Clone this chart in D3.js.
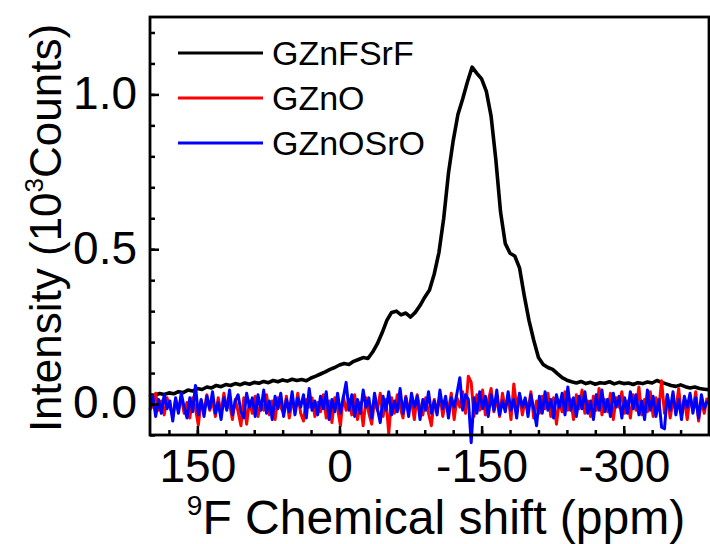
<!DOCTYPE html>
<html>
<head>
<meta charset="utf-8">
<script src="https://cdn.jsdelivr.net/npm/d3@7"></script>
<style>
  body { margin: 0; background: #fff; }
  svg { display: block; font-family: "Liberation Sans", Arial, sans-serif; }
</style>
</head>
<body>
<div id="chart"></div>
<script>
// GZnFSrF: [chemical shift (ppm), intensity (10^3 counts)]
var seriesFSrF = [
  [200, 0.030], [195, 0.028], [190, 0.034], [185, 0.031], [180, 0.036], [175, 0.033],
  [170, 0.040], [165, 0.037], [160, 0.045], [155, 0.042], [150, 0.050], [145, 0.047],
  [140, 0.055], [135, 0.052], [130, 0.060], [125, 0.056], [120, 0.063], [115, 0.060],
  [110, 0.066], [105, 0.062], [100, 0.068], [95, 0.064], [90, 0.070], [85, 0.067],
  [80, 0.073], [75, 0.069], [70, 0.076], [65, 0.072], [60, 0.078], [55, 0.074],
  [50, 0.080], [45, 0.076], [40, 0.079], [35, 0.075], [30, 0.084], [25, 0.090],
  [20, 0.097], [15, 0.104], [10, 0.112], [5, 0.118], [0, 0.126], [-5, 0.131],
  [-10, 0.128], [-15, 0.138], [-20, 0.144], [-25, 0.150], [-30, 0.147], [-35, 0.168],
  [-40, 0.195], [-45, 0.230], [-50, 0.270], [-55, 0.296], [-60, 0.300], [-65, 0.288],
  [-70, 0.294], [-75, 0.281], [-80, 0.296], [-85, 0.318], [-90, 0.345], [-95, 0.368],
  [-100, 0.420], [-105, 0.490], [-110, 0.600], [-115, 0.745], [-120, 0.850], [-125, 0.935],
  [-130, 0.985], [-135, 1.040], [-140, 1.088], [-145, 1.068], [-150, 1.050], [-155, 1.010],
  [-160, 0.930], [-165, 0.790], [-170, 0.620], [-175, 0.518], [-180, 0.487], [-185, 0.478],
  [-190, 0.440], [-195, 0.350], [-200, 0.270], [-205, 0.206], [-210, 0.150], [-215, 0.128],
  [-220, 0.118], [-225, 0.112], [-230, 0.098], [-235, 0.085], [-240, 0.077], [-245, 0.072],
  [-250, 0.068], [-255, 0.073], [-260, 0.066], [-265, 0.070], [-270, 0.064], [-275, 0.069],
  [-280, 0.067], [-285, 0.072], [-290, 0.065], [-295, 0.070], [-300, 0.066], [-305, 0.068],
  [-310, 0.063], [-315, 0.069], [-320, 0.066], [-325, 0.071], [-330, 0.068], [-335, 0.076],
  [-340, 0.070], [-345, 0.065], [-350, 0.060], [-355, 0.057], [-360, 0.062], [-365, 0.056],
  [-370, 0.052], [-375, 0.055], [-380, 0.050], [-385, 0.048], [-390, 0.046]
];

// GZnO and GZnOSrO are sampled on the same grid: 200 ppm, step -3 ppm
var noiseStart = 200;
var noiseStep = -3;

var valuesZnO = [
  0.03, -0.01, 0.035, -0.02, 0.01, -0.035, 0.02, -0.01, -0.04, 0.015,
  -0.02, 0.025, -0.03, 0.005, -0.045, 0.02, -0.015, -0.068, 0.01, -0.025,
  0.03, -0.02, 0.01, -0.04, 0.02, -0.03, 0.035, -0.015, 0.0, -0.05,
  0.015, -0.025, -0.07, 0.02, -0.065, 0.01, -0.03, 0.025, -0.04, 0.005,
  -0.02, 0.03, -0.035, 0.01, -0.05, 0.02, -0.01, -0.03, 0.025, -0.045,
  0.01, -0.02, 0.035, -0.03, -0.055, 0.015, -0.01, 0.02, -0.04, 0.005,
  -0.025, 0.03, -0.045, 0.01, -0.06, 0.02, -0.015, -0.07, 0.025, -0.02,
  0.015, -0.035, 0.03, -0.05, 0.005, -0.07, 0.02, -0.03, -0.065, 0.01,
  -0.02, 0.035, -0.04, 0.015, -0.095, 0.02, -0.03, 0.03, -0.01, -0.045,
  0.025, -0.02, 0.01, -0.05, 0.03, -0.015, -0.035, 0.02, -0.03, -0.07,
  0.015, -0.025, 0.03, -0.04, 0.01, -0.02, 0.035, -0.05, 0.02, -0.01,
  0.04, -0.03, 0.09, 0.07, -0.04, 0.03, -0.02, 0.045, -0.035, 0.01,
  0.05, -0.025, 0.02, -0.04, 0.035, -0.015, 0.025, -0.05, 0.065, -0.01,
  0.03, -0.035, 0.015, -0.02, 0.04, -0.045, 0.01, -0.03, 0.025, -0.015,
  0.035, -0.04, 0.02, -0.065, 0.01, -0.025, 0.04, -0.02, 0.015, -0.05,
  0.03, -0.015, 0.045, -0.03, 0.01, -0.04, 0.025, -0.02, 0.05, -0.035,
  0.015, -0.025, 0.035, -0.05, 0.02, -0.01, 0.04, -0.03, 0.01, -0.045,
  0.03, -0.02, 0.055, -0.035, 0.015, -0.025, 0.04, -0.04, 0.02, -0.015,
  0.075, -0.03, 0.03, -0.045, 0.01, -0.02, 0.05, -0.035, 0.015, -0.05,
  0.025, -0.02, 0.04, -0.055, 0.01, -0.03, 0.02
];

var valuesZnOSrO = [
  -0.02, 0.025, -0.04, 0.015, -0.03, 0.03, -0.015, 0.01, -0.055, 0.02,
  -0.03, 0.035, -0.01, -0.045, 0.02, -0.025, 0.06, -0.035, 0.015, -0.04,
  0.025, -0.015, 0.04, -0.03, 0.005, -0.05, 0.02, -0.02, 0.045, -0.035,
  0.01, 0.03, -0.025, -0.045, 0.035, -0.01, 0.02, -0.04, 0.03, -0.02,
  0.045, -0.03, 0.01, -0.05, 0.025, -0.015, 0.035, -0.04, 0.015, -0.025,
  0.04, -0.035, 0.02, -0.01, 0.03, -0.045, 0.05, -0.02, 0.01, -0.035,
  0.025, -0.015, 0.04, -0.05, 0.015, -0.025, 0.035, -0.03, 0.02, 0.07,
  -0.02, 0.03, -0.04, 0.015, -0.03, 0.045, -0.01, 0.02, -0.045, 0.035,
  -0.015, -0.06, 0.025, -0.02, 0.04, -0.035, 0.01, -0.025, 0.05, -0.03,
  0.02, -0.04, 0.035, -0.01, 0.025, -0.05, 0.015, -0.02, 0.04, -0.03,
  0.01, -0.035, 0.045, -0.015, 0.025, -0.045, 0.02, -0.01, 0.035, 0.085,
  -0.02, 0.03, 0.015, -0.125, 0.02, -0.03, 0.04, -0.015, 0.025, -0.04,
  0.03, -0.02, 0.045, -0.035, 0.01, -0.025, 0.04, -0.02, 0.015, -0.045,
  0.035, -0.01, 0.02, -0.04, 0.03, -0.015, -0.07, 0.025, -0.03, 0.04,
  -0.02, 0.015, -0.045, 0.03, -0.01, 0.035, -0.035, 0.055, -0.02, 0.02,
  -0.04, 0.025, -0.015, 0.04, -0.03, 0.01, -0.05, 0.03, -0.02, 0.045,
  -0.025, 0.015, -0.04, 0.035, -0.01, 0.025, -0.045, 0.02, -0.03, 0.04,
  -0.015, 0.03, -0.035, 0.01, -0.05, 0.045, -0.02, 0.025, -0.04, 0.015,
  -0.075, -0.08, 0.03, -0.02, 0.04, -0.035, 0.015, -0.05, 0.025, -0.01,
  0.035, -0.03, 0.02, -0.045, 0.03, -0.015, 0.01
];

var legendNames = ["GZnFSrF", "GZnO", "GZnOSrO"];
var legendColors = ["#000000", "#ff0000", "#0000ff"];

var xMajorTicks = [150, 0, -150, -300];
var xMinorTicks = [180, 150, 120, 90, 60, 30, 0, -30, -60, -90, -120, -150, -180, -210, -240, -270, -300, -330, -360];
var yMajorTicks = [0.0, 0.5, 1.0];
var yMinorTicks = [-0.1, 0.0, 0.1, 0.2, 0.3, 0.4, 0.5, 0.6, 0.7, 0.8, 0.9, 1.0, 1.1, 1.2];

drawSpectrum();

function drawSpectrum() {
    var width = 710, height = 544;
    var plot = { left: 150, right: 709, top: 17, bottom: 435 };

    var svg = d3.select("#chart").append("svg")
        .attr("width", width)
        .attr("height", height);

    var x = d3.scaleLinear().domain([200, -390]).range([plot.left, plot.right]);
    var y = d3.scaleLinear().domain([-0.1, 1.25]).range([plot.bottom, plot.top]);

    var toPairs = function (values) {
        return values.map(function (v, i) { return [noiseStart + noiseStep * i, v]; });
    };

    var line = d3.line()
        .x(function (d) { return x(d[0]); })
        .y(function (d) { return y(d[1]); });

    var series = [seriesFSrF, toPairs(valuesZnO), toPairs(valuesZnOSrO)];
    var widths = [3.6, 3, 3];

    series.forEach(function (s, i) {
        svg.append("path")
            .datum(s)
            .attr("fill", "none")
            .attr("stroke", legendColors[i])
            .attr("stroke-width", widths[i])
            .attr("stroke-linejoin", "round")
            .attr("d", line);
    });

    // minor ticks (inward)
    svg.append("g")
        .attr("transform", "translate(" + plot.left + ",0)")
        .call(d3.axisLeft(y).tickValues(yMinorTicks).tickSize(-5).tickFormat(""))
        .call(function (g) { g.select(".domain").remove(); })
        .selectAll("line").attr("stroke-width", 2.5);

    svg.append("g")
        .attr("transform", "translate(0," + plot.bottom + ")")
        .call(d3.axisBottom(x).tickValues(xMinorTicks).tickSize(-5).tickFormat(""))
        .call(function (g) { g.select(".domain").remove(); })
        .selectAll("line").attr("stroke-width", 2.5);

    // major ticks with labels
    var yAxis = svg.append("g")
        .attr("transform", "translate(" + plot.left + ",0)")
        .call(d3.axisLeft(y).tickValues(yMajorTicks).tickSize(-9).tickPadding(13)
            .tickFormat(d3.format(".1f")));
    yAxis.select(".domain").remove();
    yAxis.selectAll("line").attr("stroke-width", 2.5);
    yAxis.selectAll("text")
        .attr("font-size", "46px")
        .attr("font-family", "'Liberation Sans', Arial, sans-serif")
        .attr("fill", "#000")
        .attr("dy", "0.30em");

    var xAxis = svg.append("g")
        .attr("transform", "translate(0," + plot.bottom + ")")
        .call(d3.axisBottom(x).tickValues(xMajorTicks).tickSize(-9).tickPadding(14)
            .tickFormat(function (d) { return d < 0 ? "-" + Math.abs(d) : d; }));
    xAxis.select(".domain").remove();
    xAxis.selectAll("line").attr("stroke-width", 2.5);
    xAxis.selectAll("text")
        .attr("font-size", "46px")
        .attr("font-family", "'Liberation Sans', Arial, sans-serif")
        .attr("fill", "#000");

    // frame
    svg.append("rect")
        .attr("x", plot.left)
        .attr("y", plot.top)
        .attr("width", plot.right - plot.left)
        .attr("height", plot.bottom - plot.top)
        .attr("fill", "none")
        .attr("stroke", "#000")
        .attr("stroke-width", 2.8);

    // axis titles
    var xTitle = svg.append("text")
        .attr("x", 436)
        .attr("y", 534)
        .attr("text-anchor", "middle")
        .attr("font-size", "48px")
        .attr("fill", "#000");
    xTitle.append("tspan").attr("font-size", "28px").attr("dy", -19).text("9");
    xTitle.append("tspan").attr("dy", 19).text("F Chemical shift (ppm)");

    var yTitle = svg.append("text")
        .attr("transform", "translate(61,228) rotate(-90)")
        .attr("text-anchor", "middle")
        .attr("font-size", "44px")
        .attr("fill", "#000");
    yTitle.append("tspan").text("Intensity (10");
    yTitle.append("tspan").attr("font-size", "26px").attr("dy", -18).text("3");
    yTitle.append("tspan").attr("dy", 18).text("Counts)");

    // legend
    var legend = svg.append("g");
    legendNames.forEach(function (name, i) {
        var ly = 53 + i * 45;
        legend.append("line")
            .attr("x1", 178).attr("x2", 263)
            .attr("y1", ly).attr("y2", ly)
            .attr("stroke", legendColors[i])
            .attr("stroke-width", 3);
        legend.append("text")
            .attr("x", 272)
            .attr("y", ly + 12)
            .attr("font-size", "34px")
            .attr("fill", "#000")
            .text(name);
    });
}
</script>
</body>
</html>
